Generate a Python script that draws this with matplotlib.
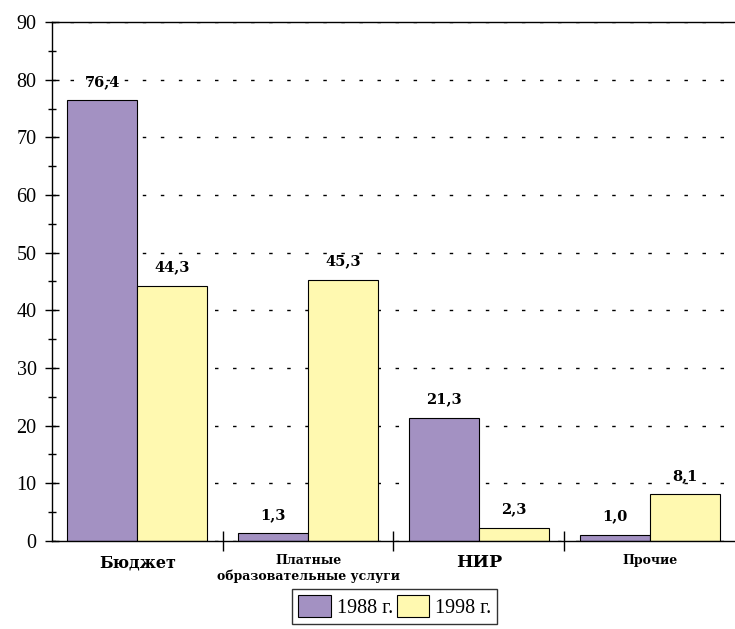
import numpy as np
import matplotlib.pyplot as plt
from matplotlib.ticker import MultipleLocator

plt.rcParams['font.family'] = ['Liberation Serif', 'DejaVu Serif']

categories = ['Бюджет', 'Платные\nобразовательные услуги', 'НИР', 'Прочие']
cat_sizes = [11.5, 9, 12.5, 9]
v1988 = [76.4, 1.3, 21.3, 1.0]
v1998 = [44.3, 45.3, 2.3, 8.1]
lab1988 = ['76,4', '1,3', '21,3', '1,0']
lab1998 = ['44,3', '45,3', '2,3', '8,1']

c1 = '#a391c2'
c2 = '#fff9b0'
bold_font = ['DejaVu Serif']

fig = plt.figure(figsize=(7.35, 6.29), dpi=100)
ax = fig.add_axes([0.0707, 0.140, 0.9293, 0.825])

x = np.arange(len(categories))
w = 0.41
b1 = ax.bar(x - w / 2, v1988, w, color=c1, edgecolor='black', linewidth=0.8, label='1988 г.')
b2 = ax.bar(x + w / 2, v1998, w, color=c2, edgecolor='black', linewidth=0.8, label='1998 г.')

for xi, v, t in zip(x - w / 2, v1988, lab1988):
    ax.text(xi, v + 2.0, t, ha='center', va='bottom', fontsize=10.5, fontweight='bold', family=bold_font)
for xi, v, t in zip(x + w / 2, v1998, lab1998):
    ax.text(xi, v + 2.0, t, ha='center', va='bottom', fontsize=10.5, fontweight='bold', family=bold_font)

ax.set_xlim(-0.5, 3.5)
ax.set_ylim(0, 90)
ax.yaxis.set_major_locator(MultipleLocator(10))
ax.yaxis.set_minor_locator(MultipleLocator(5))
ax.yaxis.grid(True, which='major', color='black', linestyle=(0, (2.5, 10.5)), linewidth=1)
ax.set_axisbelow(True)
ax.tick_params(axis='y', which='major', direction='inout', length=10, labelsize=14.5, width=1, pad=6)
ax.tick_params(axis='y', which='minor', direction='inout', length=6, width=1)

ax.set_xticks([0.5, 1.5, 2.5])
ax.set_xticklabels([])
ax.tick_params(axis='x', which='major', direction='inout', length=14, width=1)
for xi, c, s in zip(x, categories, cat_sizes):
    ax.text(xi, -2.3, c, ha='center', va='top', fontsize=s, fontweight='bold',
            family=bold_font, linespacing=1.2)

ax.spines['right'].set_visible(False)
for s in ['left', 'top', 'bottom']:
    ax.spines[s].set_linewidth(1)

leg = ax.legend(loc='upper center', bbox_to_anchor=(0.502, -0.0925), ncol=2, fontsize=14.5,
                frameon=True, fancybox=False, edgecolor='black', handlelength=1.6,
                handleheight=1.3, handletextpad=0.3, columnspacing=0.2, borderpad=0.3,
                borderaxespad=0)
leg.get_frame().set_linewidth(1)

fig.savefig('out.png', dpi=100)
